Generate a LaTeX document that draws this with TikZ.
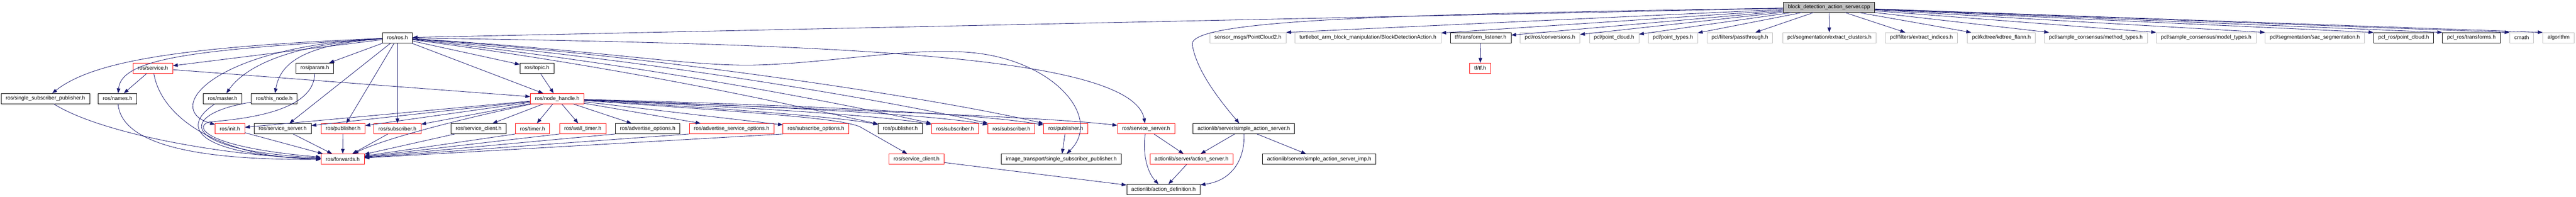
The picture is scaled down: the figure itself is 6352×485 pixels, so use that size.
\documentclass[tikz,border=0pt]{standalone}
\usepackage{fontspec}
\setmainfont{Liberation Sans}
\usetikzlibrary{arrows.meta}
\definecolor{edgeblue}{RGB}{25,25,112}
\definecolor{grey75}{RGB}{191,191,191}
\tikzset{
	hdr/.style={draw, line width=0.75pt, inner xsep=8.6pt, inner ysep=0pt, minimum height=19pt, font=\fontsize{9.9}{11}\selectfont},
	known/.style={hdr, draw=black},
	extern/.style={hdr, draw=grey75},
	trunc/.style={hdr, draw=red},
	srcfile/.style={hdr, draw=black, fill=grey75},
	inc/.style={draw=edgeblue, line width=0.8pt, -{Triangle[length=9pt, width=6.5pt]}}
}

\begin{document}
\begin{tikzpicture}[x=0.75pt, y=-0.75pt]
		%%%%% START %%%%%
		\useasboundingbox (0, 0) rectangle (6352, 485);
		
		\node[srcfile] (root) at (4510, 18) {block\_detection\_action\_server.cpp};
		
		\node[known] (ros) at (980, 93) {ros/ros.h};
		\node[extern] (pctwo) at (3077, 93) {sensor\_msgs/PointCloud2.h};
		\node[extern] (bda) at (3373, 93) {turtlebot\_arm\_block\_manipulation/BlockDetectionAction.h};
		\node[known] (tfl) at (3651, 93) {tf/transform\_listener.h};
		\node[extern] (conv) at (3822, 93) {pcl/ros/conversions.h};
		\node[extern] (pcloud) at (3980, 93) {pcl/point\_cloud.h};
		\node[extern] (ptypes) at (4125, 93) {pcl/point\_types.h};
		\node[extern] (pass) at (4290, 93) {pcl/filters/passthrough.h};
		\node[extern] (clust) at (4511, 93) {pcl/segmentation/extract\_clusters.h};
		\node[extern] (indices) at (4738, 93) {pcl/filters/extract\_indices.h};
		\node[extern] (kdtree) at (4935, 93) {pcl/kdtree/kdtree\_flann.h};
		\node[extern] (mtypes) at (5168, 93) {pcl/sample\_consensus/method\_types.h};
		\node[extern] (motypes) at (5440, 93) {pcl/sample\_consensus/model\_types.h};
		\node[extern] (sacseg) at (5708, 93) {pcl/segmentation/sac\_segmentation.h};
		\node[known] (prpc) at (5927, 93) {pcl\_ros/point\_cloud.h};
		\node[known] (prtf) at (6094, 93) {pcl\_ros/transforms.h};
		\node[extern] (cmath) at (6218, 93) {cmath};
		\node[extern] (algo) at (6309, 93) {algorithm};
		
		\node[trunc] (service) at (377, 168) {ros/service.h};
		\node[known] (param) at (776, 168) {ros/param.h};
		\node[known] (topic) at (1324, 168) {ros/topic.h};
		\node[trunc] (tf) at (3650, 168) {tf/tf.h};
		
		\node[known] (ssp) at (112, 243) {ros/single\_subscriber\_publisher.h};
		\node[known] (names) at (290, 243) {ros/names.h};
		\node[known] (master) at (549, 243) {ros/master.h};
		\node[known] (thisnode) at (676, 243) {ros/this\_node.h};
		\node[trunc] (nh) at (1374, 243) {ros/node\_handle.h};
		
		\node[trunc] (init) at (567, 317) {ros/init.h};
		\node[known] (srvsrv) at (697, 317) {ros/service\_server.h};
		\node[trunc] (pub) at (846, 317) {ros/publisher.h};
		\node[trunc] (sub) at (980, 317) {ros/subscriber.h};
		\node[known] (srvcli) at (1180, 317) {ros/service\_client.h};
		\node[trunc] (timer) at (1313, 317) {ros/timer.h};
		\node[trunc] (wtimer) at (1437, 317) {ros/wall\_timer.h};
		\node[known] (advopt) at (1597, 317) {ros/advertise\_options.h};
		\node[trunc] (advsrvopt) at (1804, 317) {ros/advertise\_service\_options.h};
		\node[trunc] (subopt) at (2012, 317) {ros/subscribe\_options.h};
		\node[known] (pubb) at (2220, 317) {ros/publisher.h};
		\node[trunc] (subb) at (2355, 317) {ros/subscriber.h};
		\node[trunc] (subc) at (2494, 317) {ros/subscriber.h};
		\node[trunc] (pubc) at (2628, 317) {ros/publisher.h};
		\node[trunc] (srvsrvb) at (2826, 317) {ros/service\_server.h};
		\node[known] (sas) at (3067, 317) {actionlib/server/simple\_action\_server.h};
		
		\node[trunc] (fwd) at (845, 392) {ros/forwards.h};
		\node[trunc] (srvclib) at (2260, 392) {ros/service\_client.h};
		\node[known] (itssp) at (2617, 392) {image\_transport/single\_subscriber\_publisher.h};
		\node[trunc] (as) at (2938, 392) {actionlib/server/action\_server.h};
		\node[known] (sasimp) at (3253, 392) {actionlib/server/simple\_action\_server\_imp.h};
		
		\node[known] (adef) at (2869, 467) {actionlib/action\_definition.h};
		
		% from the source file
		\draw[inc] (root) -- (ros);
		\draw[inc] (root) -- (pctwo.north east);
		\draw[inc] (root) -- (bda);
		\draw[inc] (root) -- (tfl);
		\draw[inc] (root) -- (conv);
		\draw[inc] (root) -- (pcloud);
		\draw[inc] (root) -- (ptypes);
		\draw[inc] (root) -- (pass);
		\draw[inc] (root) -- (clust);
		\draw[inc] (root) -- (indices);
		\draw[inc] (root) -- (kdtree);
		\draw[inc] (root) -- (mtypes);
		\draw[inc] (root) -- (motypes.north west);
		\draw[inc] (root) -- (sacseg.north west);
		\draw[inc] (root) -- (prpc.north west);
		\draw[inc] (root) -- (prtf.north west);
		\draw[inc] (root) -- (cmath.north west);
		\draw[inc] (root) -- (algo.north west);
		\draw[inc] (root) .. controls (3500, 35) and (2930, 45) .. (2940, 110) .. controls (2950, 175) and (3010, 250) .. (sas);
		
		\draw[inc] (tfl) -- (tf);
		
		% ros/ros.h
		\draw[inc] (ros) .. controls (450, 115) and (230, 150) .. (ssp);
		\draw[inc] (ros) .. controls (500, 122) and (300, 140) .. (names);
		\draw[inc] (ros) -- (service);
		\draw[inc] (ros) .. controls (520, 115) and (400, 270) .. (init);
		\draw[inc] (ros) .. controls (700, 110) and (600, 170) .. (master);
		\draw[inc] (ros) .. controls (740, 110) and (690, 160) .. (thisnode);
		\draw[inc] (ros) -- (param);
		\draw[inc] (ros) -- (srvsrv);
		\draw[inc] (ros) -- (pub);
		\draw[inc] (ros) -- (sub);
		\draw[inc] (ros) -- (topic);
		\draw[inc] (ros) -- (nh);
		\draw[inc] (ros) .. controls (1600, 175) and (2000, 270) .. (pubb);
		\draw[inc] (ros) .. controls (1600, 160) and (2100, 260) .. (subb);
		\draw[inc] (ros) .. controls (1600, 145) and (2200, 250) .. (subc);
		\draw[inc] (ros) .. controls (1600, 135) and (2300, 240) .. (pubc);
		\draw[inc] (ros) .. controls (2000, 108) and (2790, 130) .. (srvsrvb);
		\draw[inc] (ros) .. controls (1500, 125) and (1700, 165) .. (1870, 160) .. controls (2050, 155) and (2250, 115) .. (2400, 130) .. controls (2600, 150) and (2720, 290) .. (itssp);
		
		% ros/node_handle.h
		\draw[inc] (nh) -- (init);
		\draw[inc] (nh) -- (srvsrv);
		\draw[inc] (nh) -- (pub);
		\draw[inc] (nh) -- (sub);
		\draw[inc] (nh) -- (srvcli);
		\draw[inc] (nh) -- (timer);
		\draw[inc] (nh) -- (wtimer);
		\draw[inc] (nh) -- (advopt);
		\draw[inc] (nh) -- (advsrvopt);
		\draw[inc] (nh) -- (subopt);
		\draw[inc] (nh) .. controls (1150, 290) and (950, 340) .. (fwd);
		\draw[inc] (nh) .. controls (1700, 262) and (2050, 285) .. (pubb);
		\draw[inc] (nh) .. controls (1700, 258) and (2150, 280) .. (subb);
		\draw[inc] (nh) .. controls (1700, 255) and (2250, 275) .. (subc);
		\draw[inc] (nh) .. controls (1700, 252) and (2350, 270) .. (pubc);
		\draw[inc] (nh) .. controls (1900, 280) and (2070, 292) .. (2120, 312) -- (srvclib);
		\draw[inc] (nh) .. controls (1900, 265) and (2550, 285) .. (srvsrvb);
		
		% the rest of ros/
		\draw[inc] (service) -- (names);
		\draw[inc] (service) -- (nh);
		\draw[inc] (topic) -- (nh);
		\draw[inc] (service) .. controls (400, 300) and (560, 390) .. (fwd);
		\draw[inc] (ssp) .. controls (250, 330) and (560, 385) .. (fwd);
		\draw[inc] (names) .. controls (300, 360) and (500, 395) .. (fwd);
		\draw[inc] (master) .. controls (420, 330) and (540, 385) .. (fwd);
		\draw[inc] (thisnode) .. controls (440, 280) and (430, 370) .. (fwd);
		\draw[inc] (param) .. controls (775, 270) and (620, 292) .. (520, 300) .. controls (480, 305) and (480, 360) .. (fwd);
		\draw[inc] (init) -- (fwd);
		\draw[inc] (srvsrv) -- (fwd);
		\draw[inc] (pub) -- (fwd);
		\draw[inc] (sub) -- (fwd);
		\draw[inc] (srvcli) -- (fwd);
		\draw[inc] (timer.south west) -- (fwd);
		\draw[inc] (wtimer.south west) -- (fwd);
		\draw[inc] (advopt.south west) -- (fwd);
		\draw[inc] (advsrvopt.south west) -- (fwd);
		\draw[inc] (subopt.south west) -- (fwd);
		
		% actionlib and image_transport
		\draw[inc] (pubc) -- (itssp);
		\draw[inc] (srvclib) -- (adef);
		\draw[inc] (srvsrvb) -- (as);
		\draw[inc] (srvsrvb) .. controls (2818, 370) and (2825, 420) .. (adef);
		\draw[inc] (sas) -- (as);
		\draw[inc] (sas) .. controls (3070, 390) and (3040, 445) .. (adef);
		\draw[inc] (sas) -- (sasimp);
		\draw[inc] (as) -- (adef);
		
		%%%%% END %%%%%
\end{tikzpicture}
\end{document}
